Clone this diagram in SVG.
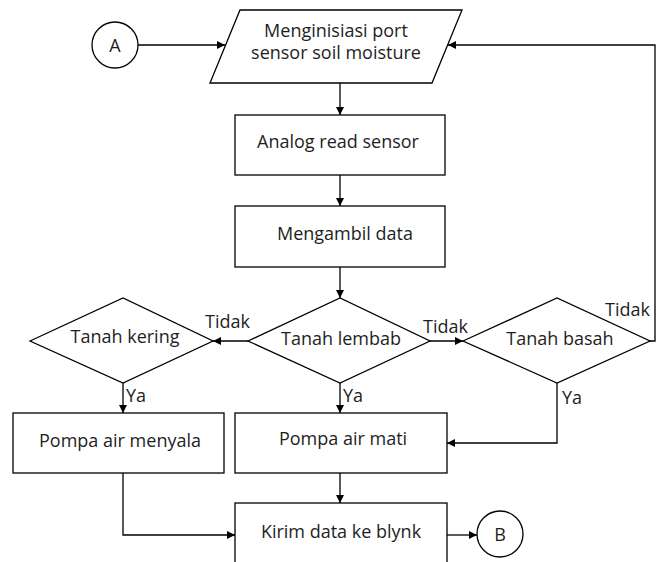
<svg xmlns="http://www.w3.org/2000/svg" width="666" height="562" viewBox="0 0 666 562">
<style>
.s{fill:#fff;stroke:#000;stroke-width:1.3}
.c{fill:none;stroke:#000;stroke-width:1.3}
text{font-family:"Open Sans","Liberation Sans",sans-serif;font-size:18px;fill:#1e1e1e}
.m{text-anchor:middle}
</style>
<defs>
<marker id="ah" markerUnits="userSpaceOnUse" markerWidth="9" markerHeight="8" refX="8" refY="4" orient="auto">
<path d="M0,0 L8,4 L0,8 z" fill="#000"/>
</marker>
</defs>
<rect width="666" height="562" fill="#fff"/>
<g id="connectors" class="c" marker-end="url(#ah)">
<path d="M138,45 H225"/>
<path d="M340,83 V115"/>
<path d="M340,175 V206"/>
<path d="M340,267 V298"/>
<path d="M248,341 H213"/>
<path d="M430,341 H463"/>
<path d="M650,341 H655 V45 H448"/>
<path d="M123,383 V413"/>
<path d="M340,383 V413"/>
<path d="M557,383 V443 H447"/>
<path d="M123,473 V535 H235"/>
<path d="M340,473 V503"/>
<path d="M447,535 H477"/>
</g>
<g id="nodeA"><circle class="s" cx="115" cy="45" r="23"/><text class="m" x="115" y="52">A</text></g>
<g id="init"><polygon class="s" points="240,10 462,10 432,83 210,83"/>
<text class="m" x="336" y="37" font-size="17.5">Menginisiasi port</text><text class="m" x="336" y="59" font-size="17.5">sensor soil moisture</text></g>
<g id="analog"><rect class="s" x="235" y="115" width="210" height="60"/><text class="m" x="338" y="148">Analog read sensor</text></g>
<g id="ambil"><rect class="s" x="235" y="206" width="210" height="61"/><text class="m" x="345" y="240">Mengambil data</text></g>
<g id="kering"><polygon class="s" points="30,341 123,298 213,341 123,383"/><text class="m" x="125" y="343">Tanah kering</text></g>
<g id="lembab"><polygon class="s" points="248,341 340,298 430,341 340,383"/><text class="m" x="341" y="345">Tanah lembab</text></g>
<g id="basah"><polygon class="s" points="463,341 557,298 650,341 557,383"/><text class="m" x="560" y="345">Tanah basah</text></g>
<g id="labels">
<text x="205" y="328">Tidak</text>
<text x="423" y="333">Tidak</text>
<text x="605" y="316">Tidak</text>
<text x="126" y="402">Ya</text>
<text x="343" y="402">Ya</text>
<text x="562" y="404">Ya</text>
</g>
<g id="menyala"><rect class="s" x="13" y="413" width="211" height="60"/><text class="m" x="120" y="447">Pompa air menyala</text></g>
<g id="mati"><rect class="s" x="235" y="413" width="212" height="60"/><text class="m" x="343" y="445">Pompa air mati</text></g>
<g id="kirim"><rect class="s" x="235" y="503" width="212" height="70"/><text class="m" x="341" y="538">Kirim data ke blynk</text></g>
<g id="nodeB"><circle class="s" cx="500" cy="534" r="23"/><text class="m" x="500" y="541">B</text></g>
</svg>
